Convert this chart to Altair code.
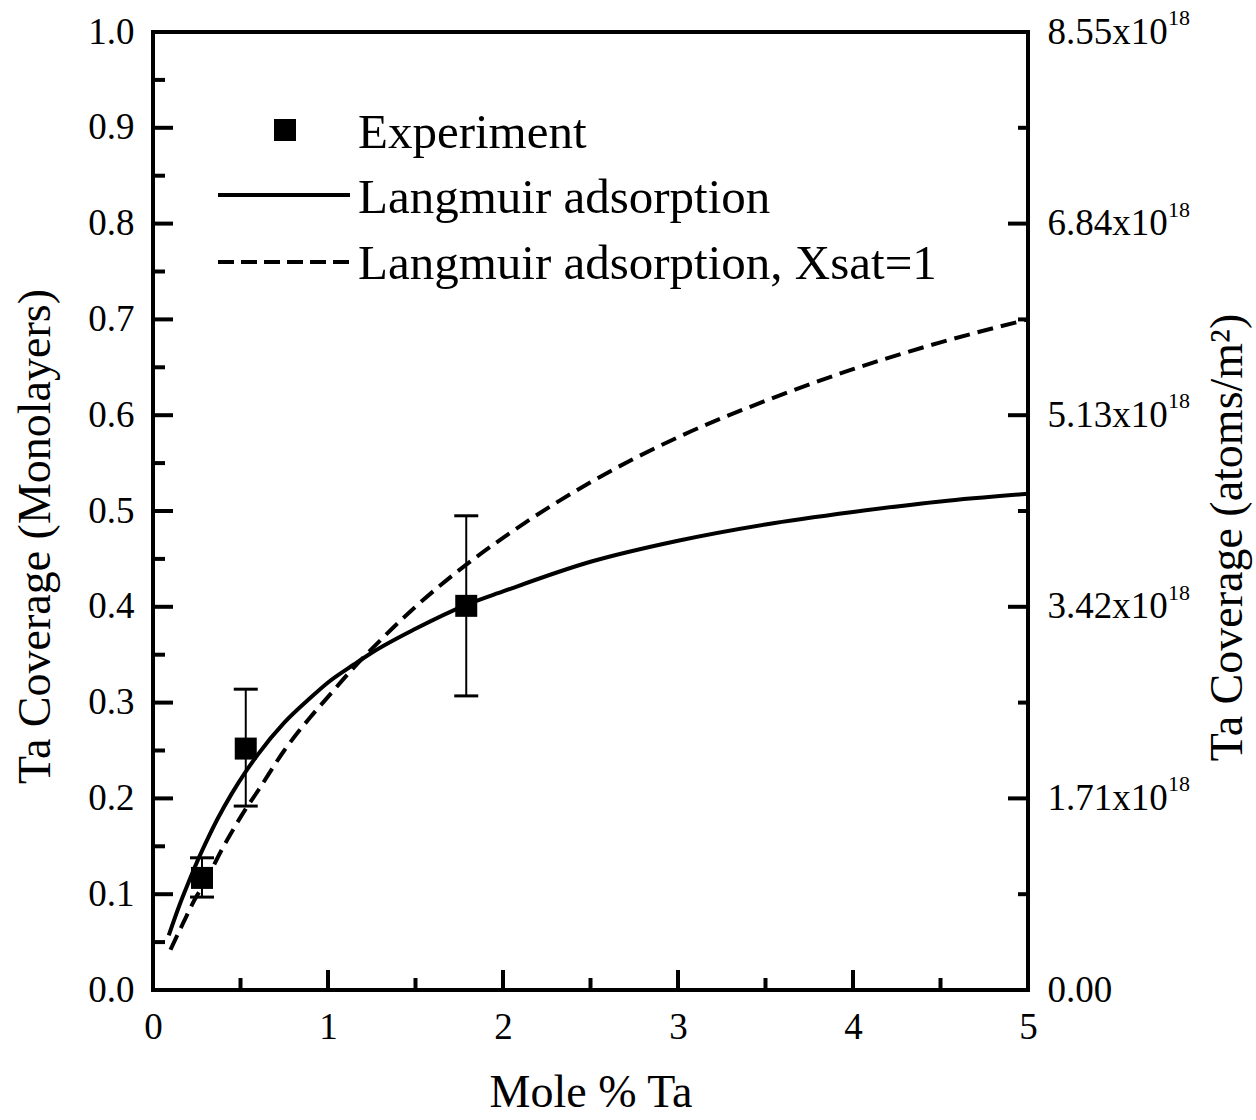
import altair as alt
import pandas as pd

# ---------------- data ----------------
exp_x = [0.28, 0.53, 1.79]
exp_y = [0.117, 0.252, 0.401]
exp_lo = [0.097, 0.192, 0.307]
exp_hi = [0.138, 0.314, 0.495]

solid_x = [0.09, 0.15, 0.2, 0.25, 0.3, 0.37, 0.45, 0.53, 0.6, 0.75, 0.9, 1.0,
           1.15, 1.25, 1.5, 1.79, 2.0, 2.5, 3.0, 3.5, 4.0, 4.5, 5.0]
solid_y = [0.057, 0.088, 0.111, 0.133, 0.153, 0.179, 0.205, 0.228, 0.246, 0.279,
           0.305, 0.321, 0.340, 0.352, 0.377, 0.402, 0.416, 0.447, 0.469, 0.486,
           0.499, 0.510, 0.518]

dash_x = [0.1, 0.17, 0.24, 0.3, 0.38, 0.45, 0.53, 0.6, 0.75, 0.9, 1.0, 1.15,
          1.25, 1.5, 1.79, 2.0, 2.5, 3.0, 3.5, 4.0, 4.5, 5.0]
dash_y = [0.042, 0.069, 0.095, 0.113, 0.142, 0.165, 0.189, 0.208, 0.250, 0.285,
          0.306, 0.337, 0.356, 0.400, 0.444, 0.472, 0.530, 0.577, 0.615, 0.648,
          0.676, 0.700]

y_major = [0.0, 0.1, 0.2, 0.3, 0.4, 0.5, 0.6, 0.7, 0.8, 0.9, 1.0]
y_minor = [0.05, 0.15, 0.25, 0.35, 0.45, 0.55, 0.65, 0.75, 0.85, 0.95]
x_major = [0, 1, 2, 3, 4, 5]
x_minor = [0.5, 1.5, 2.5, 3.5, 4.5]
r_major = [0.0, 1.71, 3.42, 5.13, 6.84, 8.55]
r_minor = [0.855, 2.565, 4.275, 5.985, 7.695]
r_sup = "18"

legend_labels = ["Experiment", "Langmuir adsorption", "Langmuir adsorption, Xsat=1"]

x_title = "Mole % Ta"
y_title = "Ta Coverage (Monolayers)"
r_title = "Ta Coverage (atoms/m\u00b2)"

# ---------------- layout ----------------
W, H = 875, 958
FONT = "Liberation Serif"
LW = 4
TICKFS = 37
TITLEFS = 46
LEGFS = 49

xscale = alt.Scale(domain=[0, 5], nice=False, zero=False)
yscale = alt.Scale(domain=[0, 1], nice=False, zero=False)
rscale = alt.Scale(domain=[0, 8.55], nice=False, zero=False)

x_axis = alt.Axis(values=x_major, format="d", ticks=False, domain=False, grid=False,
                  labelFontSize=TICKFS, labelPadding=19, labelFlush=False,
                  labelColor="black", labelFont=FONT, title=x_title, titleFontSize=TITLEFS,
                  titleFont=FONT, titleFontWeight="normal", titleColor="black",
                  titleX=W / 2, titleY=102, titleBaseline="middle", titleAlign="center")
y_axis = alt.Axis(values=y_major, format=".1f", ticks=False, domain=False, grid=False,
                  labelFontSize=TICKFS, labelPadding=19, labelColor="black", labelFont=FONT,
                  title=y_title, titleFontSize=TITLEFS, titleFontWeight="normal", titleFont=FONT,
                  titleColor="black", titleAngle=270, titleX=-118, titleY=504,
                  titleBaseline="middle", titleAlign="center")
r_axis = alt.Axis(orient="right", values=r_major, ticks=False, domain=False, grid=False,
                  labelExpr="datum.value == 0 ? '0.00' : format(datum.value, '.2f') + 'x10'",
                  labelFontSize=TICKFS, labelPadding=19, labelColor="black", labelFont=FONT,
                  title=r_title, titleFontSize=TITLEFS, titleFontWeight="normal", titleFont=FONT,
                  titleColor="black", titleAngle=270, titleX=199, titleY=505,
                  titleBaseline="middle", titleAlign="center")

X = lambda f: alt.X(f, scale=xscale, axis=x_axis)
Y = lambda f: alt.Y(f, scale=yscale, axis=y_axis)
R = lambda f: alt.Y(f, scale=rscale, axis=r_axis)

df_solid = pd.DataFrame({"x": solid_x, "y": solid_y})
df_dash = pd.DataFrame({"x": dash_x, "y": dash_y})
df_exp = pd.DataFrame({"x": exp_x, "y": exp_y, "lo": exp_lo, "hi": exp_hi})

solid = alt.Chart(df_solid).mark_line(color="black", strokeWidth=LW, interpolate="monotone").encode(
    x=X("x:Q"), y=Y("y:Q"))
dashed = alt.Chart(df_dash).mark_line(color="black", strokeWidth=LW, strokeDash=[16, 8],
                                      interpolate="monotone").encode(
    x=X("x:Q"), y=Y("y:Q"))
err = alt.Chart(df_exp).mark_rule(color="black", strokeWidth=2).encode(
    x=X("x:Q"), y=Y("lo:Q"), y2="hi:Q")
cap_lo = alt.Chart(df_exp).mark_tick(color="black", orient="horizontal", size=24,
                                     thickness=3, opacity=1).encode(x=X("x:Q"), y=Y("lo:Q"))
cap_hi = alt.Chart(df_exp).mark_tick(color="black", orient="horizontal", size=24,
                                     thickness=3, opacity=1).encode(x=X("x:Q"), y=Y("hi:Q"))
squares = alt.Chart(df_exp).mark_square(color="black", size=484, opacity=1, filled=True).encode(
    x=X("x:Q"), y=Y("y:Q"))

# inward tick marks
def yticks(vals, length):
    return alt.Chart(pd.DataFrame({"v": vals})).mark_rule(color="black", strokeWidth=LW).encode(
        y=Y("v:Q"), x=alt.value(0), x2=alt.value(length))

def xticks(vals, length):
    return alt.Chart(pd.DataFrame({"v": vals})).mark_rule(color="black", strokeWidth=LW).encode(
        x=X("v:Q"), y=alt.value(H), y2=alt.value(H - length))

ly1 = yticks(y_major, 20)
ly2 = yticks(y_minor, 12)
bx1 = xticks(x_major, 20)
bx2 = xticks(x_minor, 12)

# legend
leg_df = pd.DataFrame({"label": legend_labels})
leg_sq = alt.Chart(leg_df.iloc[[0]]).mark_square(color="black", size=484, opacity=1).encode(
    x=alt.value(132), y=alt.value(98))
leg_solid = alt.Chart(leg_df.iloc[[1]]).mark_rule(color="black", strokeWidth=LW).encode(
    x=alt.value(65), x2=alt.value(197), y=alt.value(163))
leg_dash = alt.Chart(leg_df.iloc[[2]]).mark_rule(color="black", strokeWidth=LW,
                                                  strokeDash=[16, 7]).encode(
    x=alt.value(65), x2=alt.value(197), y=alt.value(230))

def leg_text(i, ybase):
    return alt.Chart(leg_df.iloc[[i]]).mark_text(align="left", baseline="alphabetic", font=FONT,
                                                 fontSize=LEGFS, color="black").encode(
        x=alt.value(205), y=alt.value(ybase), text="label:N")

left = alt.layer(solid, dashed, err, cap_lo, cap_hi, squares, ly1, ly2, bx1, bx2,
                 leg_sq, leg_solid, leg_dash, leg_text(0, 116), leg_text(1, 181), leg_text(2, 247))

# right axis
r_ticks_major = alt.Chart(pd.DataFrame({"v": r_major})).mark_rule(color="black", strokeWidth=LW).encode(
    y=R("v:Q"), x=alt.value(W), x2=alt.value(W - 20))
r_ticks_minor = alt.Chart(pd.DataFrame({"v": r_minor})).mark_rule(color="black", strokeWidth=LW).encode(
    y=R("v:Q"), x=alt.value(W), x2=alt.value(W - 10))
sup_df = pd.DataFrame({"v": r_major[1:], "s": [r_sup] * (len(r_major) - 1)})
r_sups = alt.Chart(sup_df).mark_text(align="left", baseline="alphabetic", font=FONT,
                                     fontSize=22, color="black", dy=-7).encode(
    y=R("v:Q"), x=alt.value(W + 19 + 121), text="s:N")
right = alt.layer(r_ticks_major, r_ticks_minor, r_sups)

chart = alt.layer(left, right).resolve_scale(y="independent").properties(
    width=W, height=H,
    autosize=alt.AutoSizeParams(type="none"),
    padding={"left": 153, "top": 32, "right": 228, "bottom": 130},
    background="white",
).configure(font=FONT).configure_view(stroke="black", strokeWidth=LW)

chart.save("out.html", embed_options={"renderer": "svg", "actions": False})
